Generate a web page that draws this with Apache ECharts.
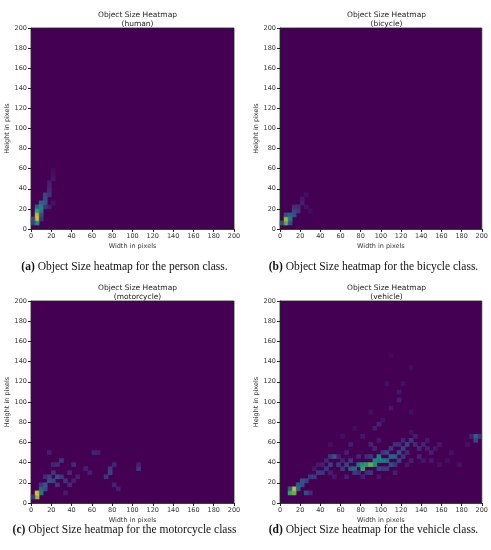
<!DOCTYPE html>
<html>
<head>
<meta charset="utf-8">
<script src="https://cdn.jsdelivr.net/npm/echarts@6/dist/echarts.min.js"></script>
<style>html,body{margin:0;background:#fff}#chart{width:491px;height:550px}</style>
</head>
<body>
<div id="chart"></div>
<script>
// cells are [width, height, relative density], 4px bins, only non-empty bins listed
var humanCells = [
  [6,10,1.0],[6,14,0.95],[6,6,0.6],[6,18,0.7],[2,10,0.3],[2,6,0.25],[10,18,0.5],[10,22,0.55],
  [10,26,0.4],[6,22,0.4],[10,14,0.3],[14,26,0.35],[14,30,0.3],[14,34,0.25],[14,22,0.2],[18,34,0.18],
  [18,38,0.15],[18,42,0.12],[18,46,0.1],[22,50,0.07],[22,54,0.05],[22,58,0.04],[18,22,0.1],[22,26,0.06],[10,10,0.2]
];
var bicycleCells = [
  [6,6,0.8],[6,10,0.9],[2,6,0.3],[10,10,0.5],[10,14,0.4],[14,14,0.3],[14,18,0.25],[18,18,0.2],
  [18,22,0.15],[22,26,0.1],[22,30,0.07],[26,34,0.05],[26,22,0.06],[30,18,0.04],[6,14,0.3],[10,6,0.3],[14,22,0.15]
];
var motorcycleCells = [
  [6,6,0.9],[6,10,1.0],[10,10,0.5],[10,14,0.4],[14,14,0.3],[14,18,0.35],[18,22,0.3],[18,26,0.25],
  [22,22,0.25],[22,30,0.2],[26,26,0.3],[26,18,0.2],[26,38,0.15],[30,42,0.2],[30,26,0.2],[34,22,0.18],
  [38,30,0.15],[42,38,0.15],[42,22,0.1],[46,26,0.1],[18,50,0.1],[22,38,0.12],[38,18,0.15],[54,34,0.1],
  [58,30,0.1],[62,50,0.12],[66,50,0.1],[74,26,0.2],[78,30,0.25],[78,34,0.2],[82,38,0.12],[82,18,0.12],
  [86,14,0.1],[106,34,0.2],[106,38,0.1],[34,10,0.1],[14,26,0.15],[10,18,0.2],[2,6,0.2]
];
var vehicleCells = [
  [10,10,0.7],[14,14,1.0],[14,10,0.8],[10,14,0.4],[18,14,0.4],[18,18,0.35],[22,18,0.3],[22,22,0.3],
  [26,22,0.25],[26,10,0.3],[30,26,0.2],[30,10,0.15],[34,26,0.2],[38,30,0.2],[42,30,0.18],[46,34,0.2],
  [50,38,0.22],[54,46,0.35],[50,46,0.2],[58,38,0.2],[62,34,0.2],[66,38,0.25],[70,34,0.35],[74,34,0.4],
  [78,38,0.5],[82,34,0.7],[82,38,0.6],[86,38,0.65],[90,38,0.8],[94,38,0.6],[94,42,0.55],[98,42,0.5],
  [98,46,0.55],[102,42,0.5],[106,42,0.45],[110,46,0.4],[114,46,0.35],[118,50,0.3],[122,54,0.25],
  [126,58,0.25],[130,62,0.2],[134,58,0.15],[138,54,0.15],[142,58,0.12],[146,54,0.1],[150,50,0.1],
  [154,54,0.08],[158,58,0.08],[170,50,0.06],[178,38,0.06],[186,58,0.06],[194,66,0.4],[194,62,0.25],
  [198,66,0.2],[190,66,0.12],
  [70,42,0.2],[74,30,0.2],[78,30,0.15],[86,30,0.15],[90,30,0.2],[98,34,0.25],[102,34,0.2],[106,34,0.2],
  [110,38,0.3],[114,38,0.2],[118,42,0.25],[122,46,0.2],[126,50,0.15],[106,50,0.25],[102,50,0.2],
  [110,54,0.2],[114,58,0.15],[118,58,0.15],[122,62,0.12],[90,46,0.2],[86,46,0.15],[78,46,0.12],
  [62,42,0.12],[58,46,0.1],[66,50,0.1],[70,58,0.1],[90,58,0.12],[94,54,0.12],[98,62,0.08],[82,66,0.08],
  [94,74,0.1],[102,82,0.06],[110,94,0.08],[118,102,0.1],[118,110,0.08],[122,118,0.06],[106,118,0.05],
  [90,90,0.05],[98,78,0.12],[130,90,0.05],[130,134,0.04],[110,146,0.03],[138,46,0.12],[142,42,0.08],
  [150,42,0.08],[158,38,0.06],[166,42,0.05],[146,62,0.08],[46,42,0.12],[42,38,0.1],[38,38,0.08],
  [34,34,0.08],[50,30,0.1],[54,26,0.08],[66,26,0.1],[82,26,0.1],[98,26,0.08],[114,30,0.1],[130,42,0.1],
  [126,38,0.08],[134,66,0.1],[130,70,0.06],[50,58,0.05],[62,66,0.05],[74,74,0.04]
];
var classNames = ['human', 'bicycle', 'motorcycle', 'vehicle'];
var captionLetters = ['a', 'b', 'c', 'd'];
var captionTexts = [
  'Object Size heatmap for the person class.',
  'Object Size heatmap for the bicycle class.',
  'Object Size heatmap for the motorcycle class',
  'Object Size heatmap for the vehicle class.'
];
var allCells = [humanCells, bicycleCells, motorcycleCells, vehicleCells];

var viridis = ['#440154','#482878','#3e4989','#31688e','#26828e','#1f9e89','#35b779','#6ece58','#b5de2b','#fde725'];
var boxes = [
  {left: 31, top: 28, w: 203, h: 201},
  {left: 280, top: 28, w: 203, h: 201},
  {left: 31, top: 301, w: 203, h: 202},
  {left: 280, top: 301, w: 203, h: 202}
];
var axisFont = {fontSize: 6.5, color: '#333', fontFamily: 'DejaVu Sans'};

var grids = [], xAxes = [], yAxes = [], series = [], titles = [], graphics = [];
boxes.forEach(function (b, i) {
  grids.push({left: b.left, top: b.top, width: b.w, height: b.h, show: true,
    backgroundColor: '#440154', borderColor: '#222', borderWidth: 0.8});
  xAxes.push({type: 'value', gridIndex: i, min: 0, max: 200, interval: 20,
    name: 'Width in pixels', nameLocation: 'middle', nameGap: 14,
    nameTextStyle: axisFont, axisLabel: Object.assign({margin: 4}, axisFont),
    axisLine: {lineStyle: {color: '#222', width: 0.8}}, axisTick: {show: true, length: 3, lineStyle: {color: '#222'}},
    splitLine: {show: false}});
  yAxes.push({type: 'value', gridIndex: i, min: 0, max: 200, interval: 20,
    name: 'Height in pixels', nameLocation: 'middle', nameGap: 19, nameRotate: 90,
    nameTextStyle: axisFont, axisLabel: Object.assign({margin: 4}, axisFont),
    axisLine: {show: true, lineStyle: {color: '#222', width: 0.8}}, axisTick: {show: true, length: 3, lineStyle: {color: '#222'}},
    splitLine: {show: false}});
  series.push({type: 'scatter', xAxisIndex: i, yAxisIndex: i, symbol: 'rect',
    symbolSize: b.w / 200 * 4 + 0.6, data: allCells[i], silent: true});
  titles.push({text: 'Object Size Heatmap\n(' + classNames[i] + ')', left: b.left + b.w / 2, top: b.top - 22,
    textAlign: 'center', textStyle: {fontSize: 7.5, fontWeight: 'normal', color: '#222', fontFamily: 'DejaVu Sans', lineHeight: 9}});
  graphics.push({type: 'text', x: b.left + b.w / 2 - 8, y: i < 2 ? 267 : 530,
    style: {text: '{b|(' + captionLetters[i] + ')} ' + captionTexts[i], align: 'center', verticalAlign: 'middle',
      font: '11.5px "Liberation Serif"', fill: '#111',
      rich: {b: {fontWeight: 'bold', fontFamily: 'Liberation Serif', fontSize: 11.5}}}});
});

var chart = echarts.init(document.getElementById('chart'));
chart.setOption({
  animation: false,
  title: titles,
  grid: grids,
  xAxis: xAxes,
  yAxis: yAxes,
  visualMap: {show: false, type: 'continuous', min: 0, max: 1, dimension: 2,
    seriesIndex: [0, 1, 2, 3], inRange: {color: viridis}},
  series: series,
  graphic: graphics
});
</script>
</body>
</html>
